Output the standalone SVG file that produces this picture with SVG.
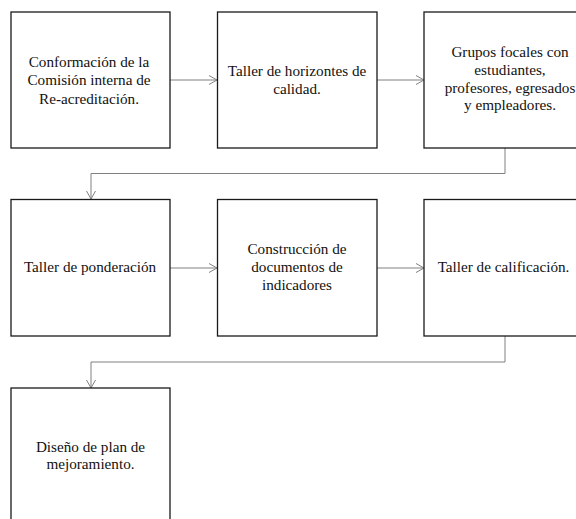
<svg xmlns="http://www.w3.org/2000/svg" width="576" height="519" viewBox="0 0 576 519">
<style>
.box{fill:#fff;stroke:#1a1a1a;stroke-width:1.3}
.lbl{font-size:15.2px;fill:#111;text-anchor:middle}
.con{fill:none;stroke:#808080;stroke-width:1}
</style>
<defs>
<marker id="arr" markerUnits="userSpaceOnUse" viewBox="0 0 8 10" refX="8" refY="5" markerWidth="8" markerHeight="10" orient="auto">
<path d="M0,0.5 L8,5 L0,9.5" fill="none" stroke="#808080" stroke-width="1"/>
</marker>
</defs>
<rect width="576" height="519" fill="#fff"/>
<g id="connectors">
<path class="con" d="M170,80 H217" marker-end="url(#arr)"/>
<path class="con" d="M377,80 H424" marker-end="url(#arr)"/>
<path class="con" d="M505,148 V173.5 H91 V199" marker-end="url(#arr)"/>
<path class="con" d="M170,268 H217" marker-end="url(#arr)"/>
<path class="con" d="M377,268 H424" marker-end="url(#arr)"/>
<path class="con" d="M505,336 V362 H91 V388" marker-end="url(#arr)"/>
</g>
<g font-family="'Liberation Serif', 'Times New Roman', 'DejaVu Serif', serif">
<g id="n1">
<rect class="box" x="11" y="12" width="159" height="136"/>
<text class="lbl"><tspan x="89" y="67">Conformación de la</tspan><tspan x="89" y="85.3">Comisión interna de</tspan><tspan x="89" y="103.5">Re-acreditación.</tspan></text>
</g>
<g id="n2">
<rect class="box" x="217.5" y="12" width="159.5" height="136"/>
<text class="lbl"><tspan x="297" y="76">Taller de horizontes de</tspan><tspan x="297" y="94.3">calidad.</tspan></text>
</g>
<g id="n3">
<rect class="box" x="424" y="12" width="170" height="136"/>
<text class="lbl"><tspan x="510" y="57.3">Grupos focales con</tspan><tspan x="510" y="75">estudiantes,</tspan><tspan x="510" y="92.5">profesores, egresados</tspan><tspan x="510" y="110">y empleadores.</tspan></text>
</g>
<g id="n4">
<rect class="box" x="11" y="199.5" width="159" height="136.5"/>
<text class="lbl" x="90" y="272">Taller de ponderación</text>
</g>
<g id="n5">
<rect class="box" x="217.5" y="199.5" width="159.5" height="136.5"/>
<text class="lbl"><tspan x="297" y="254">Construcción de</tspan><tspan x="297" y="272.2">documentos de</tspan><tspan x="297" y="290.2">indicadores</tspan></text>
</g>
<g id="n6">
<rect class="box" x="424" y="199.5" width="170" height="136.5"/>
<text class="lbl" x="503.5" y="272">Taller de calificación.</text>
</g>
<g id="n7">
<rect class="box" x="11" y="388" width="159" height="140"/>
<text class="lbl"><tspan x="90.5" y="451.7">Diseño de plan de</tspan><tspan x="90.5" y="469.3">mejoramiento.</tspan></text>
</g>
</g>
</svg>
